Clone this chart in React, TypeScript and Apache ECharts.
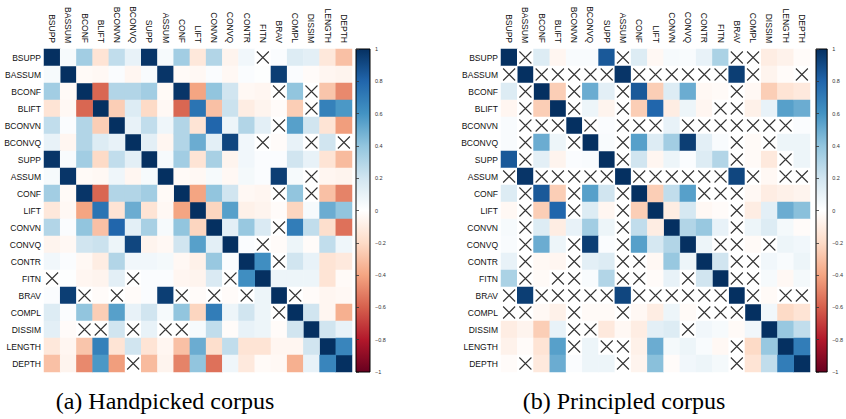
import React, { useEffect, useRef } from "react";
import * as echarts from "echarts";

const VARS = [
  "BSUPP", "BASSUM", "BCONF", "BLIFT", "BCONVN", "BCONVQ", "SUPP", "ASSUM", "CONF", "LIFT",
  "CONVN", "CONVQ", "CONTR", "FITN", "BRAV", "COMPL", "DISSIM", "LENGTH", "DEPTH",
];

// null = not significant (drawn with a cross)
const X = null;

// lower triangle (row i holds correlations with columns 0..i-1)
const HANDPICKED: (number | null)[][] = [
  [],
  [0.04],
  [0.35, -0.03],
  [-0.15, -0.04, -0.58],
  [0.25, 0.02, 0.3, -0.25],
  [0.1, -0.05, 0.3, 0.15, 0.1],
  [0.98, 0.03, 0.35, -0.2, 0.25, 0.12],
  [0.04, 0.98, -0.03, -0.04, 0.07, -0.05, 0.04],
  [0.35, -0.03, 0.98, -0.58, 0.3, 0.3, 0.35, -0.03],
  [-0.13, -0.04, -0.4, 0.74, -0.15, 0.5, -0.15, -0.04, -0.4],
  [0.3, 0.02, 0.4, -0.3, 0.8, 0.12, 0.33, 0.04, 0.4, -0.22],
  [-0.06, -0.04, 0.2, 0.22, 0.08, 0.92, -0.06, -0.04, 0.2, 0.55, 0.12],
  [0.06, 0.02, -0.04, -0.1, 0.3, 0.06, 0.06, 0.05, -0.04, -0.08, 0.38, 0.02],
  [X, 0.01, -0.05, -0.06, 0.12, X, 0.02, 0.02, -0.05, -0.06, 0.16, X, 0.62],
  [0.02, 0.95, X, -0.02, X, -0.02, 0.02, 0.95, X, -0.02, X, -0.02, X, 0.08],
  [0.15, 0.02, 0.4, -0.25, 0.55, 0.1, 0.2, 0.04, 0.4, -0.22, 0.7, 0.08, 0.2, 0.08, X],
  [0.12, -0.02, X, X, 0.2, X, 0.1, X, X, 0.04, 0.25, -0.02, 0.1, 0.08, -0.02, 0.2],
  [-0.13, -0.05, -0.28, 0.68, -0.15, 0.2, -0.15, -0.05, -0.3, 0.5, -0.18, 0.25, -0.15, -0.15, -0.05, -0.05, 0.2],
  [-0.3, -0.06, -0.48, 0.58, -0.42, X, -0.32, -0.06, -0.5, 0.4, -0.55, 0.07, -0.12, -0.03, -0.04, -0.36, 0.1, 0.66],
];

const PRINCIPLED: (number | null)[][] = [
  [],
  [X],
  [0.15, X],
  [-0.05, X, -0.25],
  [0.03, X, X, X],
  [0.03, X, 0.5, 0.08, X],
  [0.85, X, 0.12, -0.06, 0.02, 0.03],
  [X, 0.98, X, X, X, X, X],
  [0.15, X, 0.85, -0.25, X, 0.55, 0.2, X],
  [-0.04, X, -0.25, 0.8, X, 0.15, -0.05, X, -0.25],
  [0.04, X, 0.15, -0.1, 0.1, 0.35, 0.08, X, 0.25, -0.1],
  [0.03, X, 0.5, 0.08, X, 0.95, 0.02, X, 0.55, 0.18, 0.3],
  [0.1, X, -0.04, -0.05, X, 0.12, 0.15, X, X, -0.04, 0.38, 0.08],
  [0.32, X, -0.03, X, X, 0.03, 0.3, X, X, -0.02, 0.1, X, 0.2],
  [X, 0.95, X, X, X, X, X, 0.92, X, X, X, X, X, X],
  [X, X, -0.04, -0.08, X, -0.03, -0.03, X, -0.04, -0.1, 0.08, -0.03, X, X, X],
  [-0.1, -0.06, -0.25, 0.1, X, X, -0.12, -0.04, -0.1, 0.12, 0.15, X, 0.06, 0.04, -0.03, 0.06],
  [-0.07, -0.02, -0.15, 0.55, X, 0.08, X, X, -0.08, 0.5, 0.05, 0.08, 0.03, -0.04, X, -0.2, 0.38],
  [-0.02, X, -0.12, 0.5, 0.02, 0.08, 0.08, X, -0.06, 0.42, -0.02, 0.06, 0.08, 0.05, X, -0.15, 0.25, 0.7],
];

const CAPTIONS = ["(a) Handpicked corpus", "(b) Principled corpus"];

// corrplot RdBu palette, from -1 to +1
const PALETTE = [
  "#67001F", "#B2182B", "#D6604D", "#F4A582", "#FDDBC7", "#FFFFFF",
  "#D1E5F0", "#92C5DE", "#4393C3", "#2166AC", "#053061",
];

function cells(lower: (number | null)[][]) {
  const heat: [number, number, number][] = [];
  const cross: [number, number][] = [];
  const n = VARS.length;
  for (let i = 0; i < n; i++) {
    heat.push([i, i, 1]);
    for (let j = 0; j < i; j++) {
      const v = lower[i][j];
      const val = v === null ? 0 : v;
      heat.push([j, i, val]);
      heat.push([i, j, val]);
      if (v === null) {
        cross.push([j, i]);
        cross.push([i, j]);
      }
    }
  }
  return { heat, cross };
}

const FONT = "Liberation Sans";

export default function App() {
  const ref = useRef<HTMLDivElement>(null);
  useEffect(() => {
    if (!ref.current) return;
    const chart = echarts.init(ref.current, undefined, { renderer: "svg" });
    const a = cells(HANDPICKED);
    const b = cells(PRINCIPLED);

    const gradient = {
      type: "linear",
      x: 0,
      y: 0,
      x2: 0,
      y2: 1,
      colorStops: PALETTE.slice()
        .reverse()
        .map((c, k) => ({ offset: k / (PALETTE.length - 1), color: c })),
    };

    const catX = (gi: number) => ({
      type: "category",
      gridIndex: gi,
      data: VARS,
      position: "top",
      axisLine: { show: false },
      axisTick: { show: false },
      splitLine: { show: false },
      axisLabel: { rotate: 90, fontSize: 8.5, color: "#111", fontFamily: FONT, margin: 6, interval: 0 },
    });
    const catY = (gi: number) => ({
      type: "category",
      gridIndex: gi,
      data: VARS,
      inverse: true,
      axisLine: { show: false },
      axisTick: { show: false },
      splitLine: { show: false },
      axisLabel: { fontSize: 8.5, color: "#111", fontFamily: FONT, margin: 3, interval: 0 },
    });
    const barX = (gi: number) => ({ type: "value", gridIndex: gi, show: false, min: 0, max: 1 });
    const barY = (gi: number) => ({
      type: "value",
      gridIndex: gi,
      min: -1,
      max: 1,
      interval: 0.2,
      position: "right",
      axisLine: { show: false },
      axisTick: { show: true, length: 3, lineStyle: { color: "#333", width: 0.8 } },
      splitLine: { show: false },
      axisLabel: {
        fontSize: 5.5,
        color: "#333",
        fontFamily: FONT,
        margin: 5,
        showMinLabel: true,
        showMaxLabel: true,
        formatter: (v: number) => String(Math.round(v * 10) / 10).replace("-", "\u2212"),
      },
    });
    const crossSeries = (gi: number, data: [number, number][]) => ({
      type: "scatter",
      xAxisIndex: gi,
      yAxisIndex: gi,
      data,
      symbol: "path://M0 0L10 10M10 0L0 10",
      symbolSize: [12, 12],
      itemStyle: { color: "transparent", borderColor: "#000", borderWidth: 1.1 },
      emphasis: { disabled: true },
      silent: true,
      z: 5,
    });
    const caption = (text: string, x: number) => ({
      type: "text",
      x,
      y: 401,
      style: {
        text,
        fontFamily: "Liberation Serif",
        fontSize: 24,
        textAlign: "center",
        textVerticalAlign: "middle",
        align: "center",
        verticalAlign: "middle",
        fill: "#000",
      },
    });

    chart.setOption({
      animation: false,
      grid: [
        { left: 44, top: 49, width: 308, height: 323 },
        { left: 501, top: 49, width: 309, height: 323 },
        { left: 356, top: 49, width: 14, height: 323, show: true, backgroundColor: gradient, borderColor: "#000", borderWidth: 1 },
        { left: 816, top: 49, width: 13, height: 323, show: true, backgroundColor: gradient, borderColor: "#000", borderWidth: 1 },
      ],
      xAxis: [catX(0), catX(1), barX(2), barX(3)],
      yAxis: [catY(0), catY(1), barY(2), barY(3)],
      visualMap: {
        show: false,
        type: "continuous",
        min: -1,
        max: 1,
        dimension: 2,
        seriesIndex: [0, 2],
        inRange: { color: PALETTE },
      },
      series: [
        { type: "heatmap", xAxisIndex: 0, yAxisIndex: 0, data: a.heat, emphasis: { disabled: true }, silent: true },
        crossSeries(0, a.cross),
        { type: "heatmap", xAxisIndex: 1, yAxisIndex: 1, data: b.heat, emphasis: { disabled: true }, silent: true },
        crossSeries(1, b.cross),
        { type: "scatter", xAxisIndex: 2, yAxisIndex: 2, data: [] },
        { type: "scatter", xAxisIndex: 3, yAxisIndex: 3, data: [] },
      ],
      graphic: [caption(CAPTIONS[0], 165), caption(CAPTIONS[1], 624)],
    });
    return () => chart.dispose();
  }, []);
  return <div ref={ref} style={{ position: "absolute", left: 0, top: 0, width: 846, height: 419 }} />;
}
